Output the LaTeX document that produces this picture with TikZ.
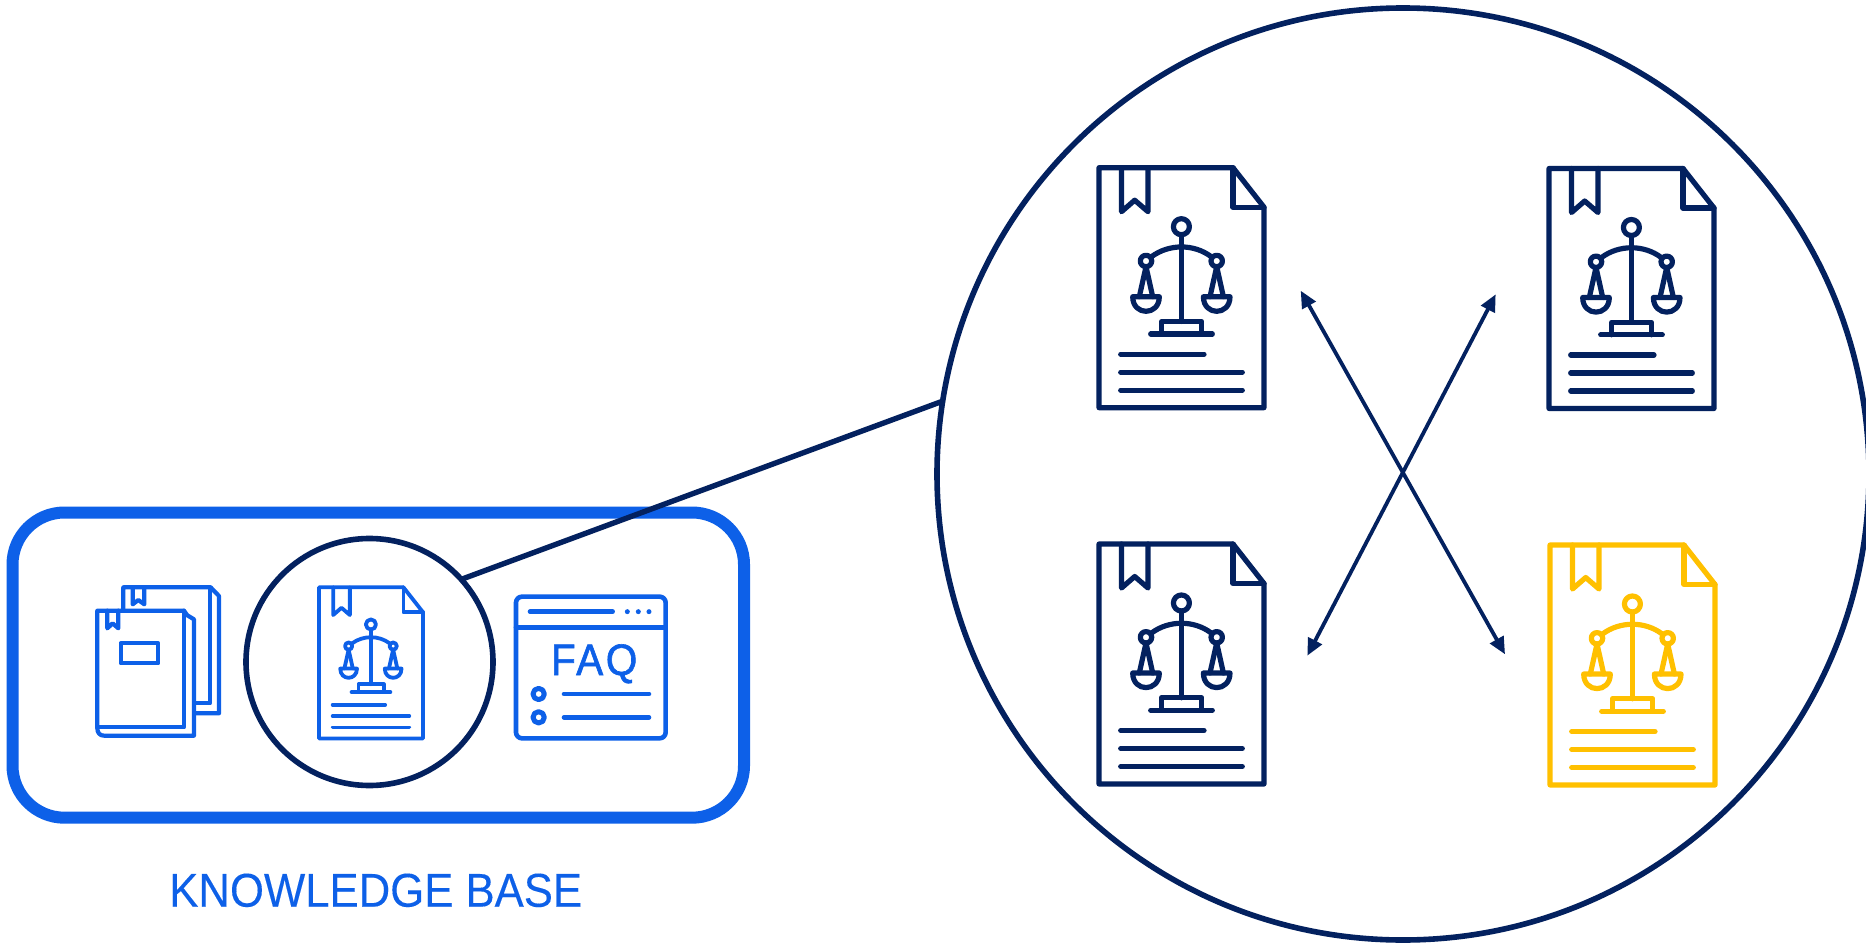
\documentclass[tikz,border=0pt]{standalone}
\usepackage{fontspec}
\setmainfont{Liberation Sans}
\newfontfamily\kbfont[FakeStretch=0.92,FakeBold=0.2]{Liberation Sans}
\newfontfamily\faqfont[FakeStretch=0.92,FakeBold=1.4,LetterSpace=6]{Liberation Sans}
\usetikzlibrary{arrows.meta}
\definecolor{kbblue}{HTML}{0D60E8}
\definecolor{navy}{HTML}{03215F}
\definecolor{gold}{HTML}{FFC000}
\tikzset{
  icon/.style={line cap=round,line join=round},
  ring/.style={circle,draw=navy,line width=5.6pt,inner sep=0pt,outer sep=0pt},
  twoway/.style={{Triangle[length=17pt,width=15pt]}-{Triangle[length=17pt,width=15pt]},draw=navy,line width=3.8pt},
}
% #1 origin, #2 scale, #3 colour, #4 line width
\newcommand{\legaldoc}[4]{%
\begin{scope}[shift={#1},x=#2pt,y=-#2pt,draw=#3,line width=#4pt,icon]
  \draw (0,0) -- (134,0) -- (165,39.5) -- (165,240) -- (0,240) -- cycle;
  \draw (134,0) -- (134,39.5) -- (165,39.5);
  \draw (22.5,0) -- (22.5,44) -- (35.7,32.5) -- (49,44) -- (49,0);
  \draw (82.4,59) circle[radius=8];
  \draw (82.4,67) -- (82.4,153.8);
  \draw (47,93.3) circle[radius=5.7];
  \draw (117.7,93.3) circle[radius=5.7];
  \draw (52.5,89) .. controls (70,76) and (95,76) .. (112.2,89);
  \draw (47,99) -- (40.3,129);
  \draw (47,99) -- (53.7,129);
  \draw (117.7,99) -- (111,129);
  \draw (117.7,99) -- (124.4,129);
  \draw (33.7,129) -- (60.3,129) .. controls (60.3,148.5) and (33.7,148.5) .. (33.7,129) -- cycle;
  \draw (104.4,129) -- (131,129) .. controls (131,148.5) and (104.4,148.5) .. (104.4,129) -- cycle;
  \draw (62.7,166.3) -- (62.7,153.8) -- (102.7,153.8) -- (102.7,166.3);
  \draw (51.7,166.3) -- (113.3,166.3);
  \draw (21.7,186.5) -- (105,186.5);
  \draw (21.7,204.5) -- (143.3,204.5);
  \draw (21.7,222.5) -- (143.3,222.5);
\end{scope}}
\begin{document}
\begin{tikzpicture}[x=1pt,y=-1pt]
\useasboundingbox (0,0) rectangle (1866,944);
\clip (0,0) rectangle (1866,944);
\fill[white] (0,0) rectangle (1866,944);

\node[draw=kbblue,line width=12pt,rounded corners=52pt,inner sep=0pt,outer sep=0pt,
  minimum width=731.5pt,minimum height=305.2pt] (kbox) at (378.25,665.1) {};

% books
\begin{scope}[shift={(80,570)},x=0.3333pt,y=-0.3333pt,draw=kbblue,line width=4.2pt,icon]
  \draw (130,122) -- (130,52) -- (392,52) -- (417,78) -- (417,430) -- (345,430);
  \draw (390,52) -- (390,400) -- (345,400);
  \draw (158,52) -- (158,103) -- (175,90) -- (193,103) -- (193,52);
  \draw (52,122) -- (312,122) -- (322,136) -- (342,148) -- (342,497) -- (72,497) .. controls (60,497) and (52,489) .. (52,475) -- cycle;
  \draw (312,122) -- (312,472) -- (52,472);
  \draw (82,122) -- (82,175) -- (98,160) -- (115,175) -- (115,122);
  \draw (122,220) rectangle (235,280);
\end{scope}

\node[ring,minimum size=247pt] (lens) at (369.5,662) {};
\legaldoc{(319,587.3)}{0.63}{kbblue}{3.8}

% FAQ window
\begin{scope}[shift={(500,580)},x=0.3333pt,y=-0.3333pt,draw=kbblue,fill=kbblue,line width=4.6pt,icon]
  \draw[rounded corners=6pt] (48,50) rectangle (497,475);
  \draw (48,142) -- (497,142);
  \draw (90,95) -- (338,95);
  \fill (382,95) circle[radius=7.5] (415,95) circle[radius=7.5] (447,95) circle[radius=7.5];
  \draw[line width=5pt] (116,342) circle[radius=17] (116,412) circle[radius=17];
  \draw (192,342) -- (447,342);
  \draw (192,412) -- (447,412);
\end{scope}
\node[text=kbblue,font=\faqfont\fontsize{44}{44}\selectfont,anchor=base,inner sep=0pt] (faq) at (594.2,675) {FAQ};

\node[anchor=base,inner sep=0pt,text=kbblue,font=\kbfont\fontsize{47.5}{50}\selectfont] (kb) at (375.7,906.7) {KNOWLEDGE BASE};

% magnified view
\node[ring,minimum size=932pt] (big) at (1403,474) {};
\draw[navy,line width=5.4pt] (lens.42) -- (big.171.5);

\legaldoc{(1099,167.7)}{1}{navy}{5.2}
\legaldoc{(1549,168.5)}{1}{navy}{5.2}
\legaldoc{(1099,544)}{1}{navy}{5.2}
\legaldoc{(1550,545)}{1}{gold}{5.2}

\coordinate (a1) at (1300.7,290.7);
\coordinate (a2) at (1505,654.3);
\coordinate (b1) at (1495.7,294.3);
\coordinate (b2) at (1307.3,655.7);
\draw[twoway] (a1) -- (a2);
\draw[twoway] (b1) -- (b2);
\end{tikzpicture}
\end{document}
